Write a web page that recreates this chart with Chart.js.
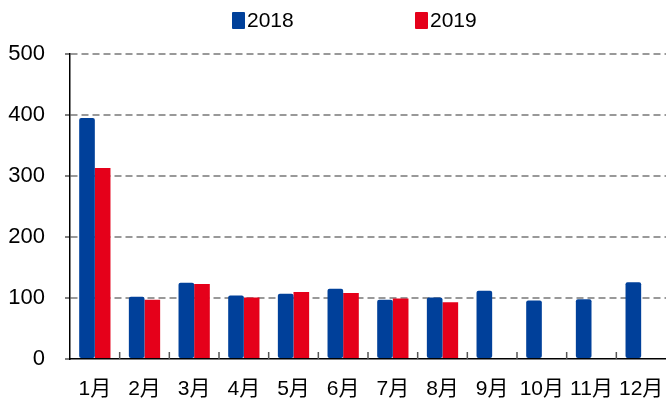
<!DOCTYPE html>
<html>
<head>
<meta charset="utf-8">
<script src="https://cdn.jsdelivr.net/npm/chart.js@4/dist/chart.umd.min.js"></script>
<style>
  html, body { margin: 0; padding: 0; background: #fff; }
  #wrap { position: relative; width: 666px; height: 406px; }
  #legend { position: absolute; top: 7px; left: 0; width: 666px; height: 28px;
            font-family: "Liberation Sans", Arial, "Noto Sans CJK SC", sans-serif; font-size: 21px; color: #000; }
  .item { position: absolute; top: 0; line-height: 26px; }
  .box { display: inline-block; width: 13px; height: 17px; vertical-align: -2px; margin-right: 2px; border-radius: 1px; }
</style>
</head>
<body>
<div id="wrap">
  <canvas id="chart" width="666" height="406"></canvas>
  <div id="legend"></div>
</div>
<script>
const months = ["1月", "2月", "3月", "4月", "5月", "6月", "7月", "8月", "9月", "10月", "11月", "12月"];
const values2018 = [395, 102, 125, 104, 107, 115, 97, 101, 112, 96, 98, 126];
const values2019 = [313, 97, 123, 101, 110, 108, 99, 93, null, null, null, null];
const yTicks = [0, 100, 200, 300, 400, 500];

const blue = "#00409A";
const red = "#E5001A";
const fontFamily = "'Liberation Sans', Arial, 'Noto Sans CJK SC', sans-serif";

// legend as html
const legendEl = document.getElementById("legend");
[["2018", blue, 232], ["2019", red, 415]].forEach(([name, color, left]) => {
    const item = document.createElement("div");
    item.className = "item";
    item.style.left = left + "px";
    item.innerHTML = '<span class="box" style="background:' + color + '"></span>' + name;
    legendEl.appendChild(item);
});

// small tick marks pointing up from the x axis, between categories
const innerTicks = {
    id: "innerTicks",
    afterDatasetsDraw(chart) {
        const x = chart.scales.x;
        const ctx = chart.ctx;
        const bottom = chart.chartArea.bottom;
        ctx.save();
        ctx.strokeStyle = "#555";
        ctx.lineWidth = 1.5;
        for (let i = 1; i < months.length; i++) {
            const px = (x.getPixelForValue(i - 1) + x.getPixelForValue(i)) / 2;
            ctx.beginPath();
            ctx.moveTo(px, bottom);
            ctx.lineTo(px, bottom - 7);
            ctx.stroke();
        }
        ctx.restore();
    }
};

new Chart(document.getElementById("chart"), {
    type: "bar",
    data: {
        labels: months,
        datasets: [
            { label: "2018", data: values2018, backgroundColor: blue, borderRadius: 2, borderSkipped: false,
              categoryPercentage: 0.63, barPercentage: 1 },
            { label: "2019", data: values2019, backgroundColor: red, borderRadius: 0,
              categoryPercentage: 0.63, barPercentage: 1 }
        ]
    },
    options: {
        responsive: false,
        animation: false,
        layout: { padding: { top: 54, left: 8, right: -2, bottom: 0 } },
        plugins: {
            legend: { display: false },
            tooltip: { enabled: false }
        },
        scales: {
            x: {
                afterFit(scale) {
                    scale.height = 47;
                    scale.paddingLeft = 0;
                    scale.paddingRight = 0;
                },
                grid: { display: false },
                border: { display: true, color: "#000", width: 1.5 },
                ticks: { color: "#000", padding: 10, maxRotation: 0, minRotation: 0, autoSkip: false,
                         font: { family: fontFamily, size: 21 } }
            },
            y: {
                min: 0,
                max: 500,
                afterFit(scale) { scale.width = 62; },
                afterBuildTicks(scale) { scale.ticks = yTicks.map(v => ({ value: v })); },
                border: { display: true, color: "#000", width: 1.5, dash: [7, 4] },
                grid: {
                    color: ctx => ctx.tick && ctx.tick.value === 0 ? "rgba(0,0,0,0)" : "#999",
                    lineWidth: 2,
                    tickColor: "#555",
                    tickLength: 5,
                    tickBorderDash: [],
                    tickWidth: 1.5
                },
                ticks: { color: "#000", padding: 20, font: { family: fontFamily, size: 22 } }
            }
        }
    },
    plugins: [innerTicks]
});
</script>
</body>
</html>
